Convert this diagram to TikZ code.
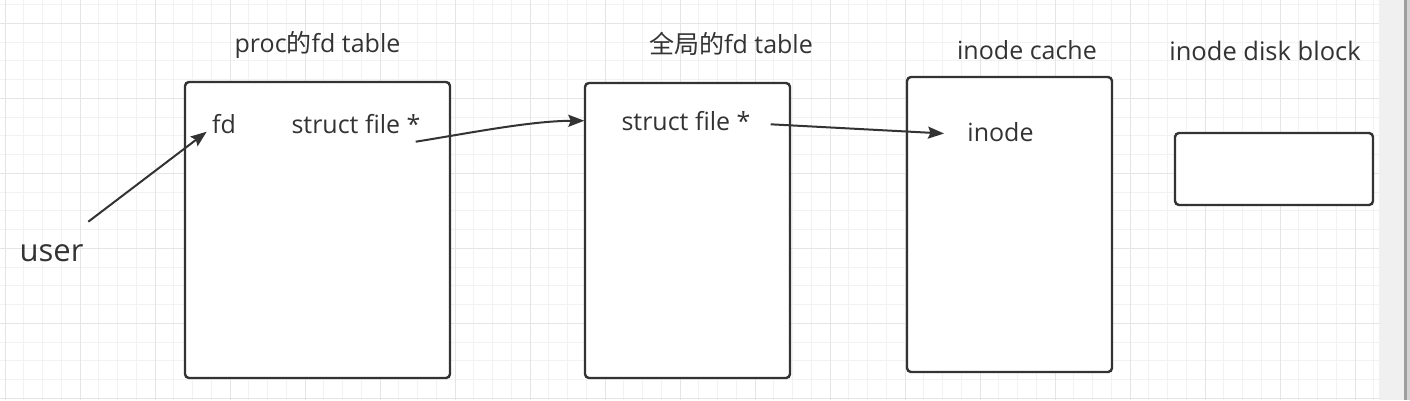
\documentclass[tikz,border=0pt]{standalone}
\usepackage{fontspec}
\setmainfont{Open Sans}
\newfontfamily\cjk{Noto Sans CJK SC}
\usetikzlibrary{arrows.meta}
\definecolor{ink}{HTML}{333333}
\definecolor{gminor}{HTML}{F2F2F2}
\definecolor{gmajor}{HTML}{E5E5E5}
\definecolor{barfill}{HTML}{F0F0F0}
\definecolor{bardark}{HTML}{9E9E9E}
\definecolor{barlight}{HTML}{D2D2D2}
\begin{document}
\begin{tikzpicture}[x=1pt,y=-1pt,
  box/.style={draw=ink,line width=2.4pt,rounded corners=4pt,fill=white,inner sep=0pt},
  lbl/.style={anchor=base,inner sep=0pt,text=ink,font=\fontsize{25}{30}\selectfont},
  conn/.style={draw=ink,line width=2pt,-{Stealth[length=16pt,width=12pt,inset=2.5pt]}},
  gridminor/.style={draw=gminor,line width=1pt},
  gridmajor/.style={draw=gmajor,line width=1pt}]
\useasboundingbox (0,0) rectangle (1410,400);
\fill[white] (0,0) rectangle (1410,400);
% grid
\foreach \i in {0,...,73} \draw[gridminor] ({5+18.75*\i},0) -- ({5+18.75*\i},400);
\foreach \i in {0,...,21} \draw[gridminor] (0,{4.6+18.75*\i}) -- (1379,{4.6+18.75*\i});
\foreach \i in {0,...,18} \draw[gridmajor] ({5+75*\i},0) -- ({5+75*\i},400);
\foreach \i in {0,...,5} \draw[gridmajor] (0,{23.35+75*\i}) -- (1379,{23.35+75*\i});
% right bar
\fill[barfill] (1379,0) rectangle (1404,400);
\fill[bardark] (1404,0) rectangle (1406.5,400);
\fill[barlight] (1406.5,0) rectangle (1410,400);
% boxes
\node[box,minimum width=265pt,minimum height=296pt] (b1) at (317.5,230) {};
\node[box,minimum width=205pt,minimum height=295pt] (b2) at (687.5,230.5) {};
\node[box,minimum width=205pt,minimum height=295pt] (b3) at (1009.5,224.5) {};
\node[box,minimum width=198pt,minimum height=72pt] (b4) at (1274,169) {};
% labels
\node[lbl] (t1) at (317.5,52.3) {proc{\cjk 的}fd table};
\node[lbl] (t2) at (731,53) {{\cjk 全局的}fd table};
\node[lbl] (t3) at (1027,59) {inode cache};
\node[lbl,font=\fontsize{25.5}{30}\selectfont] (t4) at (1265,60.5) {inode disk block};
\node[lbl] (fd) at (224,133) {fd};
\node[lbl] (sf1) at (356,133) {struct file *};
\node[lbl] (sf2) at (686,130) {struct file *};
\node[lbl] (ino) at (1000.5,141.7) {inode};
\node[lbl,font=\fontsize{31}{36}\selectfont] (user) at (51.5,261) {user};
% connector ends
\coordinate (uA) at (88.3,221.7);
\coordinate (uB) at (206.7,131.7);
\coordinate (cA) at (415.7,141.7);
\coordinate (cB) at (584.3,120.7);
\coordinate (dA) at (770.7,124.3);
\coordinate (dB) at (944,133.5);
% connectors
\draw[conn] (uA) -- (uB);
\draw[conn] (cA) .. controls (470,133) and (530,121) .. (cB);
\draw[conn] (dA) -- (dB);
\end{tikzpicture}
\end{document}
